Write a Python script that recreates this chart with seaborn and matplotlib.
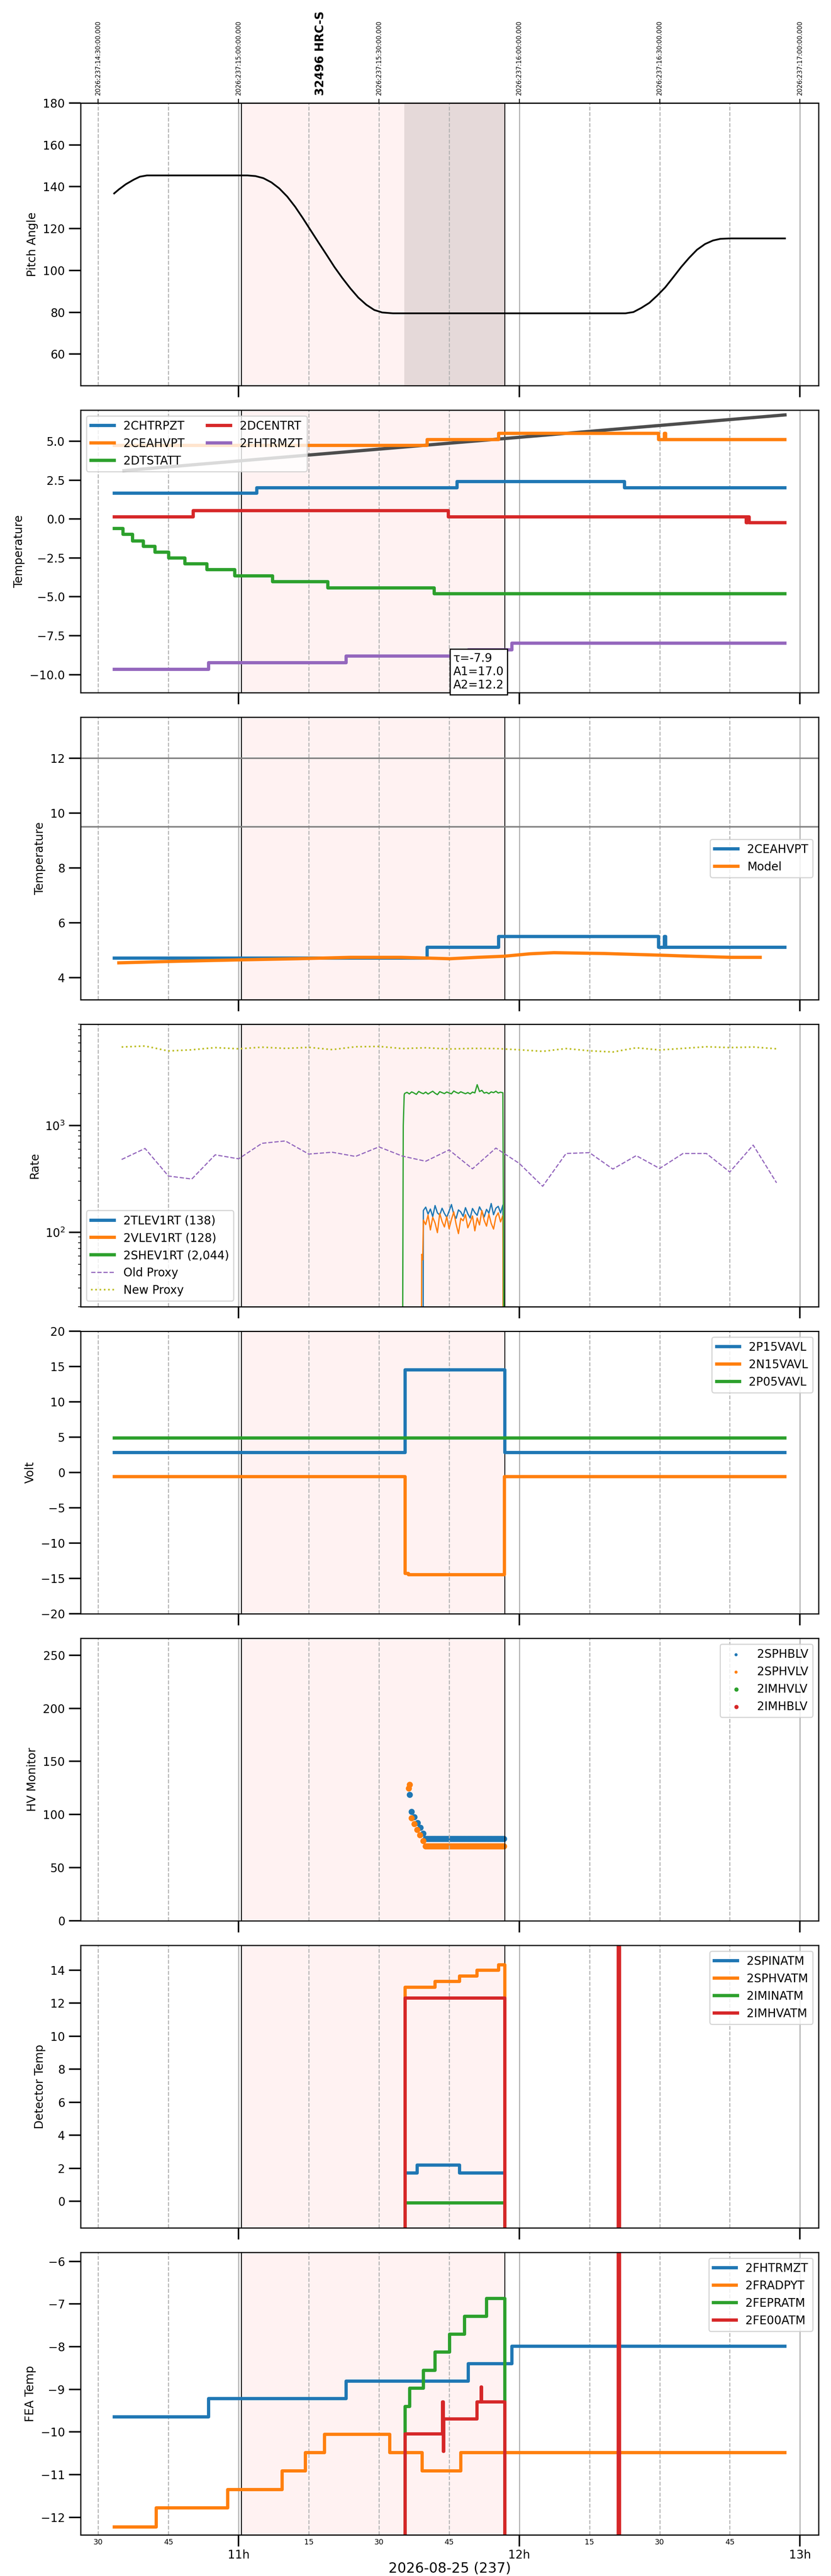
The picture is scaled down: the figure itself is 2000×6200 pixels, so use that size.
import matplotlib
matplotlib.use("Agg")
import matplotlib.pyplot as plt
import matplotlib.dates as mdates
import matplotlib.transforms as mtransforms
import numpy as np
import pandas as pd
import seaborn as sns

# all times are minutes after 2026-08-25 10:30
base = pd.Timestamp("2026-08-25 10:30")

obs_start, obs_end, hv_on = 30.6, 86.9, 65.4
data_start, data_end = 3.4, 146.8

# top axis labels
top_tick_min = [0, 30, 60, 90, 120, 150]
top_labels = ["2026:237:14:30:00.000", "2026:237:15:00:00.000", "2026:237:15:30:00.000",
              "2026:237:16:00:00.000", "2026:237:16:30:00.000", "2026:237:17:00:00.000"]
title = "32496 HRC-S"

# pitch
pitch_min = [3.4, 4.4, 5.9, 7.6, 8.9, 10.4, 31.9, 33.6, 35.3, 37.0, 38.7, 40.4, 42.1, 43.7,
             45.4, 47.1, 48.8, 50.5, 52.2, 53.9, 55.6, 57.3, 59.0, 60.7, 63.0,
             112.7, 114.4, 116.1, 117.8, 119.5, 121.2, 122.9, 124.6, 126.3, 128.0,
             129.7, 131.4, 133.0, 135.1, 146.8]
pitch_val = [136.8, 138.7, 141.2, 143.4, 144.8, 145.4, 145.4, 145.1, 144.1, 142.1, 139.2, 135.3, 130.4, 125.1,
             119.2, 113.3, 107.5, 101.6, 96.3, 91.4, 87.0, 83.6, 81.1, 79.9, 79.5,
             79.5, 80.1, 82.1, 84.5, 88.0, 91.9, 96.7, 101.6, 106.0, 109.9,
             112.6, 114.3, 115.1, 115.3, 115.3]

# temperatures (step series, change points)
chtrpzt_min = [3.4, 33.9, 76.7, 112.5, 146.8]
chtrpzt_val = [1.65, 2.02, 2.40, 2.02, 2.02]
ceahvpt_min = [3.4, 70.3, 85.6, 119.8, 121.0, 121.3, 146.8]
ceahvpt_val = [4.72, 5.10, 5.50, 5.10, 5.50, 5.10, 5.10]
dtstatt_min = [3.4, 5.3, 7.3, 9.6, 12.1, 15.1, 18.5, 23.2, 29.2, 37.3, 49.1, 71.8, 146.8]
dtstatt_val = [-0.61, -0.99, -1.40, -1.77, -2.13, -2.50, -2.88, -3.26, -3.65, -4.02, -4.42, -4.81, -4.81]
dcentrt_min = [3.4, 20.3, 74.8, 138.5, 138.8, 139.1, 146.8]
dcentrt_val = [0.14, 0.53, 0.14, -0.24, 0.14, -0.24, -0.24]
fhtrmzt_min = [3.4, 23.6, 53.0, 79.1, 88.4, 146.8]
fhtrmzt_val = [-9.65, -9.22, -8.81, -8.40, -7.99, -7.99]
trend_min = [5.5, 146.8]
trend_val = [3.11, 6.69]
fit_text = "τ=-7.9\nA1=17.0\nA2=12.2"

# model
model_min = [4.4, 15.1, 30.7, 42.6, 53.9, 64.7, 75.2, 81.0, 86.7, 92.3, 97.4, 108.2, 120.0, 125.1, 135.3, 141.5]
model_val = [4.54, 4.59, 4.65, 4.69, 4.74, 4.74, 4.69, 4.74, 4.78, 4.87, 4.91, 4.88, 4.82, 4.79, 4.74, 4.74]
model_limits = [12.0, 9.5]

# rates
shev_min = [65.0, 65.2, 65.4] + list(np.arange(65.5, 86.55, 0.5)) + [86.8]
shev_val = [1, 1000, 1950,
            2010, 2060, 1990, 2080, 2030, 1970, 2100, 2040, 2000, 2070,
            1985, 2050, 2110, 2020, 1960, 2090, 2045, 2005, 2075, 2030,
            1995, 2120, 2060, 2015, 2085, 2040, 2000, 2050, 1990, 2070,
            2035, 2430, 2095, 2150, 2025, 2060, 2000, 2080, 2045, 2110,
            2030, 2065, 2040,
            1]
tlev_min = [69.4] + list(np.arange(69.5, 86.55, 0.5)) + [86.6]
tlev_val = [1,
            160, 172, 148, 165, 140, 178, 152, 145, 168, 150,
            138, 158, 182, 147, 135, 162, 155, 141, 170, 149,
            136, 167, 153, 144, 173, 157, 139, 164, 151, 186,
            146, 168, 175, 152, 180,
            1]
vlev_min = [69.0, 69.15, 69.35] + list(np.arange(69.5, 86.55, 0.5)) + [86.6]
vlev_val = [1, 62, 55,
            130, 118, 145, 105, 138, 122, 99, 150, 126, 112,
            140, 108, 132, 155, 119, 97, 135, 128, 146, 110,
            124, 142, 103, 136, 117, 160, 129, 114, 148, 121,
            107, 139, 152, 125, 144,
            1]
proxy_min = list(range(5, 146, 5))
old_proxy = [482, 612, 337, 316, 533, 489, 684, 720, 542, 564,
             515, 633, 519, 464, 593, 394, 617, 443, 270, 549,
             559, 392, 524, 397, 549, 549, 368, 658, 291]
new_proxy = [5490, 5610, 5040, 5170, 5420, 5280, 5470, 5330, 5450, 5190,
             5520, 5560, 5310, 5400, 5260, 5330, 5310, 5170, 5000, 5310,
             5060, 4930, 5400, 5150, 5330, 5520, 5420, 5490, 5280]

# voltages
p15_min = [3.4, 65.6, 86.9, 146.8]
p15_val = [2.82, 14.5, 2.82, 2.82]
n15_min = [3.4, 65.6, 66.3, 86.8, 146.8]
n15_val = [-0.62, -14.3, -14.5, -0.62, -0.62]
p05_min = [3.4, 146.8]
p05_val = [4.87, 4.87]

# HV monitor
hv_flat_min = np.arange(70.0, 86.95, 0.25)
sphblv_min = [66.6, 67.0, 67.6, 68.3, 68.9, 69.5] + list(hv_flat_min)
sphblv_val = [118.5, 102.5, 97.5, 92.0, 87.5, 82.0] + [77.0] * len(hv_flat_min)
sphvlv_min = [66.4, 66.6, 67.0, 67.6, 68.2, 68.8, 69.5] + list(hv_flat_min)
sphvlv_val = [124.5, 128.0, 96.5, 91.0, 85.5, 80.5, 75.0] + [70.0] * len(hv_flat_min)

# detector temps (-60 / 60 = invalid readings, off scale)
spinatm_min = [3.4, 65.6, 68.2, 77.2, 86.9, 146.8]
spinatm_val = [-60, 1.72, 2.20, 1.72, -60, -60]
sphvatm_min = [3.4, 65.6, 72.0, 77.2, 81.0, 85.6, 86.9, 146.8]
sphvatm_val = [-60, 12.97, 13.30, 13.64, 13.98, 14.31, -60, -60]
iminatm_min = [3.4, 65.6, 86.9, 146.8]
iminatm_val = [-60, -0.10, -60, -60]
imhvatm_min = [3.4, 65.6, 86.9, 111.15, 111.45, 146.8]
imhvatm_val = [-60, 12.31, -60, 60, -60, -60]

# FEA temps
fradpyt_min = [3.4, 12.4, 27.7, 39.3, 44.3, 48.4, 62.3, 69.2, 77.5, 146.8]
fradpyt_val = [-12.23, -11.78, -11.35, -10.91, -10.48, -10.06, -10.48, -10.91, -10.48, -10.48]
fepratm_min = [3.4, 65.6, 66.6, 69.5, 72.0, 75.1, 78.3, 83.0, 86.9, 146.8]
fepratm_val = [-60, -9.40, -8.97, -8.56, -8.13, -7.71, -7.29, -6.87, -60, -60]
fe00atm_min = [3.4, 65.6, 73.6, 73.75, 73.9, 81.0, 81.85, 81.95, 86.9, 111.15, 111.45, 146.8]
fe00atm_val = [-60, -10.05, -9.30, -10.45, -9.70, -9.30, -8.95, -9.30, -60, 60, -60, -60]


def tt(minutes):
    return base + pd.to_timedelta(np.asarray(minutes, dtype=float), unit="min")


def t1(minutes):
    return base + pd.Timedelta(minutes=minutes)


def line(ax, mins, vals, color, label=None, lw=2.8, step=True, **kw):
    if step:
        kw["drawstyle"] = "steps-post"
    sns.lineplot(x=tt(mins), y=vals, ax=ax, color=color, lw=lw, label=label,
                 estimator=None, sort=False, **kw)


pal = sns.color_palette("tab10")
blue, orange, green, red, purple, olive = pal[0], pal[1], pal[2], pal[3], pal[4], pal[8]

fig, axes = plt.subplots(8, 1, figsize=(10, 31), dpi=200, sharex=True)
fig.subplots_adjust(left=0.097, right=0.985, top=0.96, bottom=0.016, hspace=0.087)

# 1 pitch
ax = axes[0]
line(ax, pitch_min, pitch_val, "k", lw=1.5, step=False)
ax.set_ylim(45, 180)
ax.set_ylabel("Pitch Angle")

# 2 temperatures
ax = axes[1]
line(ax, trend_min, trend_val, "0.3", step=False, zorder=1.8)
line(ax, chtrpzt_min, chtrpzt_val, blue, "2CHTRPZT")
line(ax, ceahvpt_min, ceahvpt_val, orange, "2CEAHVPT")
line(ax, dtstatt_min, dtstatt_val, green, "2DTSTATT")
line(ax, dcentrt_min, dcentrt_val, red, "2DCENTRT")
line(ax, fhtrmzt_min, fhtrmzt_val, purple, "2FHTRMZT")
ax.set_ylim(-11.15, 7.0)
ax.set_ylabel("Temperature")
ax.legend(loc="upper left", ncol=2)
ax.text(mdates.date2num(t1(75.9)), -8.58, fit_text, ha="left", va="top", fontsize=10, zorder=5,
        bbox=dict(boxstyle="square,pad=0.3", fc="white", ec="black"))

# 3 model
ax = axes[2]
for lim in model_limits:
    ax.axhline(lim, color="0.5", lw=1.3)
line(ax, ceahvpt_min, ceahvpt_val, blue, "2CEAHVPT")
line(ax, model_min, model_val, orange, "Model", step=False)
ax.set_ylim(3.2, 13.5)
ax.set_ylabel("Temperature")
ax.legend(loc="center right")

# 4 rates
ax = axes[3]
line(ax, tlev_min, tlev_val, blue, "2TLEV1RT (138)", lw=1.1, step=False)
line(ax, vlev_min, vlev_val, orange, "2VLEV1RT (128)", lw=1.1, step=False)
line(ax, shev_min, shev_val, green, "2SHEV1RT (2,044)", lw=1.1, step=False)
line(ax, proxy_min, old_proxy, purple, "Old Proxy", lw=1.0, step=False, linestyle="--")
line(ax, proxy_min, new_proxy, olive, "New Proxy", lw=1.4, step=False, linestyle=":")
ax.set_yscale("log")
ax.set_ylim(20, 9000)
ax.set_ylabel("Rate")
leg = ax.legend(loc="lower left")
for h in leg.get_lines()[:3]:
    h.set_linewidth(2.8)

# 5 volts
ax = axes[4]
line(ax, p15_min, p15_val, blue, "2P15VAVL")
line(ax, n15_min, n15_val, orange, "2N15VAVL")
line(ax, p05_min, p05_val, green, "2P05VAVL")
ax.set_ylim(-20, 20)
ax.set_ylabel("Volt")
ax.legend(loc="upper right")

# 6 HV monitor
ax = axes[5]
sns.scatterplot(x=tt(sphblv_min), y=sphblv_val, ax=ax, color=blue, s=28, edgecolor="none", label="2SPHBLV")
sns.scatterplot(x=tt(sphvlv_min), y=sphvlv_val, ax=ax, color=orange, s=28, edgecolor="none", label="2SPHVLV")
ax.scatter([], [], color=green, s=28, label="2IMHVLV")
ax.scatter([], [], color=red, s=28, label="2IMHBLV")
ax.set_ylim(0, 266)
ax.set_ylabel("HV Monitor")
ax.legend(loc="upper right", markerscale=0.5)

# 7 detector temps
ax = axes[6]
line(ax, spinatm_min, spinatm_val, blue, "2SPINATM")
line(ax, sphvatm_min, sphvatm_val, orange, "2SPHVATM")
line(ax, iminatm_min, iminatm_val, green, "2IMINATM")
line(ax, imhvatm_min, imhvatm_val, red, "2IMHVATM")
ax.set_ylim(-1.6, 15.5)
ax.set_ylabel("Detector Temp")
ax.legend(loc="upper right")

# 8 FEA temps
ax = axes[7]
line(ax, fhtrmzt_min, fhtrmzt_val, blue, "2FHTRMZT")
line(ax, fradpyt_min, fradpyt_val, orange, "2FRADPYT")
line(ax, fepratm_min, fepratm_val, green, "2FEPRATM")
line(ax, fe00atm_min, fe00atm_val, red, "2FE00ATM")
ax.set_ylim(-12.41, -5.79)
ax.set_ylabel("FEA Temp")
ax.legend(loc="upper right")

# common styling
pad = 0.05 * (data_end - data_start)
axes[0].set_xlim(t1(data_start - pad), t1(data_end + pad))
axes[-1].xaxis.set_major_locator(mdates.HourLocator())
axes[-1].xaxis.set_minor_locator(mdates.MinuteLocator(byminute=[15, 30, 45]))
axes[-1].xaxis.set_major_formatter(mdates.DateFormatter("%Hh"))
axes[-1].xaxis.set_minor_formatter(mdates.DateFormatter("%M"))
axes[-1].set_xlabel("2026-08-25 (237)", fontsize=12, labelpad=1)

for ax in axes:
    ax.axvspan(t1(obs_start), t1(obs_end), color="red", alpha=0.05, lw=0, zorder=0.5)
    ax.axvline(t1(obs_start), color="k", lw=0.8, zorder=1.6)
    ax.axvline(t1(obs_end), color="k", lw=0.8, zorder=1.6)
    ax.grid(True, which="major", axis="x", color="0.7", lw=1.0, ls="-")
    ax.grid(True, which="minor", axis="x", color="0.7", lw=0.9, ls="--")
    ax.tick_params(axis="x", which="major", length=10, width=1.3, labelsize=10, pad=2.5)
    ax.tick_params(axis="x", which="minor", length=0, labelsize=6.5)
    ax.tick_params(axis="y", which="major", length=10, width=1.3, labelsize=10)
    for side in ["top", "bottom", "left", "right"]:
        ax.spines[side].set_linewidth(1.0)

axes[0].axvspan(t1(hv_on), t1(obs_end), color="k", alpha=0.1, lw=0, zorder=0.6)

sec = axes[0].secondary_xaxis("top")
sec.set_xticks(mdates.date2num(tt(top_tick_min)))
sec.set_xticklabels(top_labels, rotation=90, fontsize=5.5)

trans = mtransforms.blended_transform_factory(axes[0].transData, axes[0].transAxes)
axes[0].text(mdates.date2num(t1(47.5)), 1.0265, title, rotation=90, ha="center", va="bottom",
             fontsize=10, fontweight="bold", transform=trans)

fig.savefig("out.png", dpi=200)
